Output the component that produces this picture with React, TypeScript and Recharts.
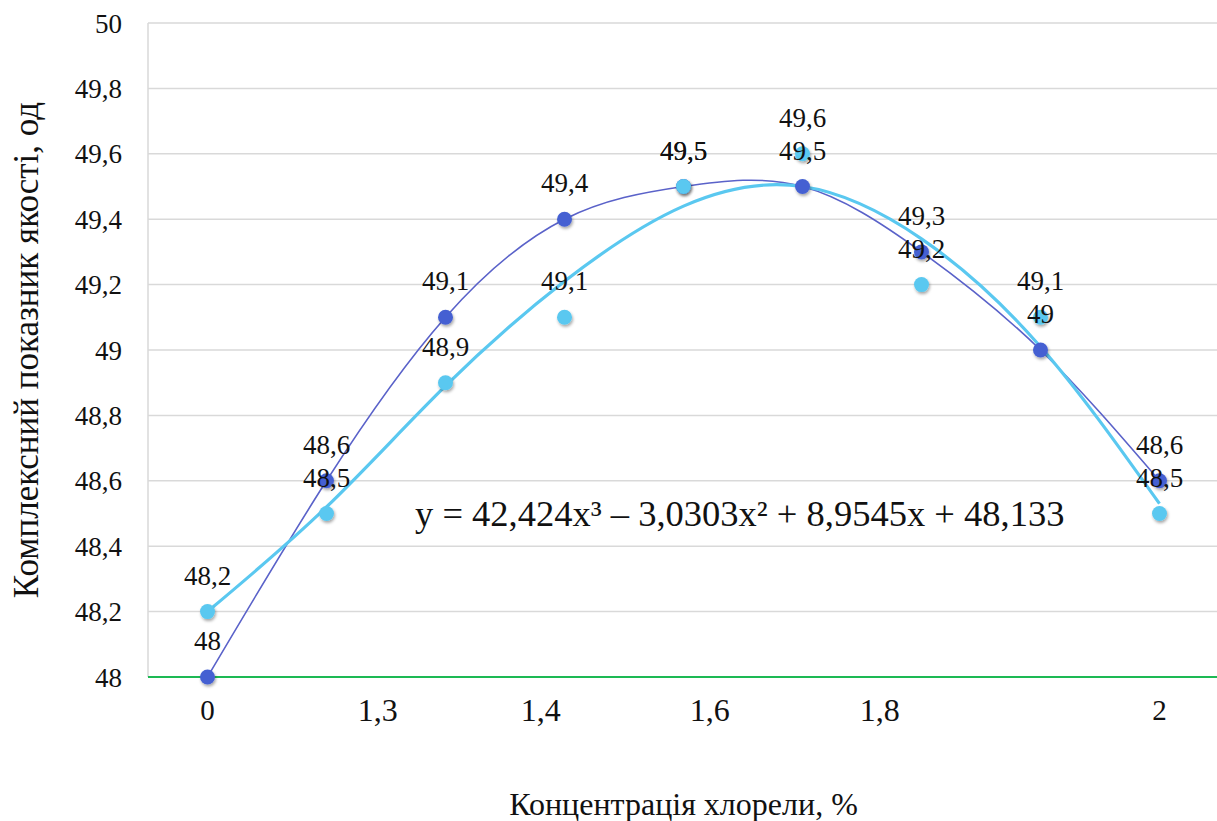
import { LineChart, Line, XAxis, YAxis, CartesianGrid, ReferenceLine, LabelList, Label } from "recharts";

// positions of the nine measurement points along the x band axis
const pointIndex = [0, 1, 2, 3, 4, 5, 6, 7, 8];

// measured values
const darkValues = [48.0, 48.6, 49.1, 49.4, 49.5, 49.5, 49.3, 49.0, 48.6];
const lightValues = [48.2, 48.5, 48.9, 49.1, 49.5, 49.6, 49.2, 49.1, 48.5];

// trend curves at each point
const darkTrend = [48.0, 48.6, 49.1, 49.4, 49.5, 49.5, 49.3, 49.0, 48.6];
const lightTrend = [48.2, 48.52, 48.89, 49.21, 49.44, 49.5, 49.34, 49.01, 48.53];

// axis ticks
const gridTicks = [-0.5, 0.5, 1.5, 2.5, 3.5, 4.5, 5.5, 6.5, 7.5, 8.5];
const xTickPos = [0, 1.43, 2.8, 4.22, 5.65, 8];
const xTickLabels = ["0", "1,3", "1,4", "1,6", "1,8", "2"];
const yTicks = [48, 48.2, 48.4, 48.6, 48.8, 49, 49.2, 49.4, 49.6, 49.8, 50];

const data = pointIndex.map((i, k) => ({
  i,
  dark: darkValues[k],
  light: lightValues[k],
  darkFit: darkTrend[k],
  lightFit: lightTrend[k],
}));

const FONT = '"Liberation Serif", "Times New Roman", serif';
const DARK_DOT = "#4561D2";
const DARK_LINE = "#5A62C9";
const LIGHT = "#5AC8F0";

const comma = (v: number) => String(Number(v.toFixed(1))).replace(".", ",");

const XTick = ({ x, y, index }: any) => {
  const big = index > 0 && index < xTickLabels.length - 1;
  return (
    <text x={x} y={y} dy="0.35em" textAnchor="middle" fontSize={big ? 32 : 29} fontFamily={FONT} fill="#111">
      {xTickLabels[index]}
    </text>
  );
};

export default function App() {
  return (
    <div style={{ position: "absolute", left: 0, top: 0, width: 1217, height: 821, overflow: "hidden", background: "#fff", fontFamily: FONT }}>
      <LineChart width={1230} height={821} data={data} margin={{ top: 23, right: 11, left: 0, bottom: 0 }} accessibilityLayer={false}>
        <defs>
          <filter id="dotShadow" x="-50%" y="-50%" width="200%" height="200%">
            <feDropShadow dx="1" dy="2" stdDeviation="1.8" floodColor="#000" floodOpacity="0.35" />
          </filter>
        </defs>
        <CartesianGrid xAxisId="g" stroke="#D9D9D9" strokeWidth={1.5} />
        <XAxis xAxisId="g" type="number" dataKey="i" domain={[-0.5, 8.5]} ticks={gridTicks} tick={false} axisLine={false} tickLine={false} height={0} />
        <XAxis
          xAxisId="lab"
          type="number"
          dataKey="i"
          domain={[-0.5, 8.5]}
          ticks={xTickPos}
          interval={0}
          tick={<XTick />}
          axisLine={false}
          tickLine={false}
          tickMargin={27}
          height={144}
        >
          <Label value="Концентрація хлорели, %" position="insideBottom" offset={6} fontSize={32} fontFamily={FONT} fill="#111" />
        </XAxis>
        <YAxis
          domain={[48, 50]}
          ticks={yTicks}
          interval={0}
          width={148}
          axisLine={false}
          tickLine={false}
          tickMargin={20}
          tickFormatter={comma}
          tick={{ fontSize: 27, fill: "#111", fontFamily: FONT }}
        >
          <Label
            value="Комплексний показник якості, од"
            angle={-90}
            position="insideLeft"
            offset={26}
            fontSize={35}
            fontFamily={FONT}
            fill="#111"
            style={{ textAnchor: "middle" }}
          />
        </YAxis>
        <ReferenceLine xAxisId="g" y={48} stroke="#1DB954" strokeWidth={2.2} />

        <Line xAxisId="g" type="natural" dataKey="darkFit" stroke={DARK_LINE} strokeWidth={1.6} dot={false} activeDot={false} isAnimationActive={false} />
        <Line xAxisId="g" type="natural" dataKey="lightFit" stroke={LIGHT} strokeWidth={3.2} dot={false} activeDot={false} isAnimationActive={false} />

        <Line xAxisId="g" dataKey="dark" stroke="none" dot={{ r: 7.5, fill: DARK_DOT, stroke: "none", filter: "url(#dotShadow)" }} activeDot={false} isAnimationActive={false} />
        <Line xAxisId="g" dataKey="light" stroke="none" dot={{ r: 7.5, fill: LIGHT, stroke: "none", filter: "url(#dotShadow)" }} activeDot={false} isAnimationActive={false} />

        <Line xAxisId="g" dataKey="dark" stroke="none" dot={false} activeDot={false} isAnimationActive={false}>
          <LabelList dataKey="dark" position="top" offset={27} formatter={comma} fontSize={27} fontFamily={FONT} fill="#111" />
        </Line>
        <Line xAxisId="g" dataKey="light" stroke="none" dot={false} activeDot={false} isAnimationActive={false}>
          <LabelList dataKey="light" position="top" offset={27} formatter={comma} fontSize={27} fontFamily={FONT} fill="#111" />
        </Line>
      </LineChart>
      <div
        style={{
          position: "absolute",
          left: 415,
          top: 496,
          fontFamily: FONT,
          fontSize: 36.5,
          lineHeight: 1,
          color: "#111",
          whiteSpace: "nowrap",
        }}
      >
        y = 42,424x³ – 3,0303x² + 8,9545x + 48,133
      </div>
    </div>
  );
}
